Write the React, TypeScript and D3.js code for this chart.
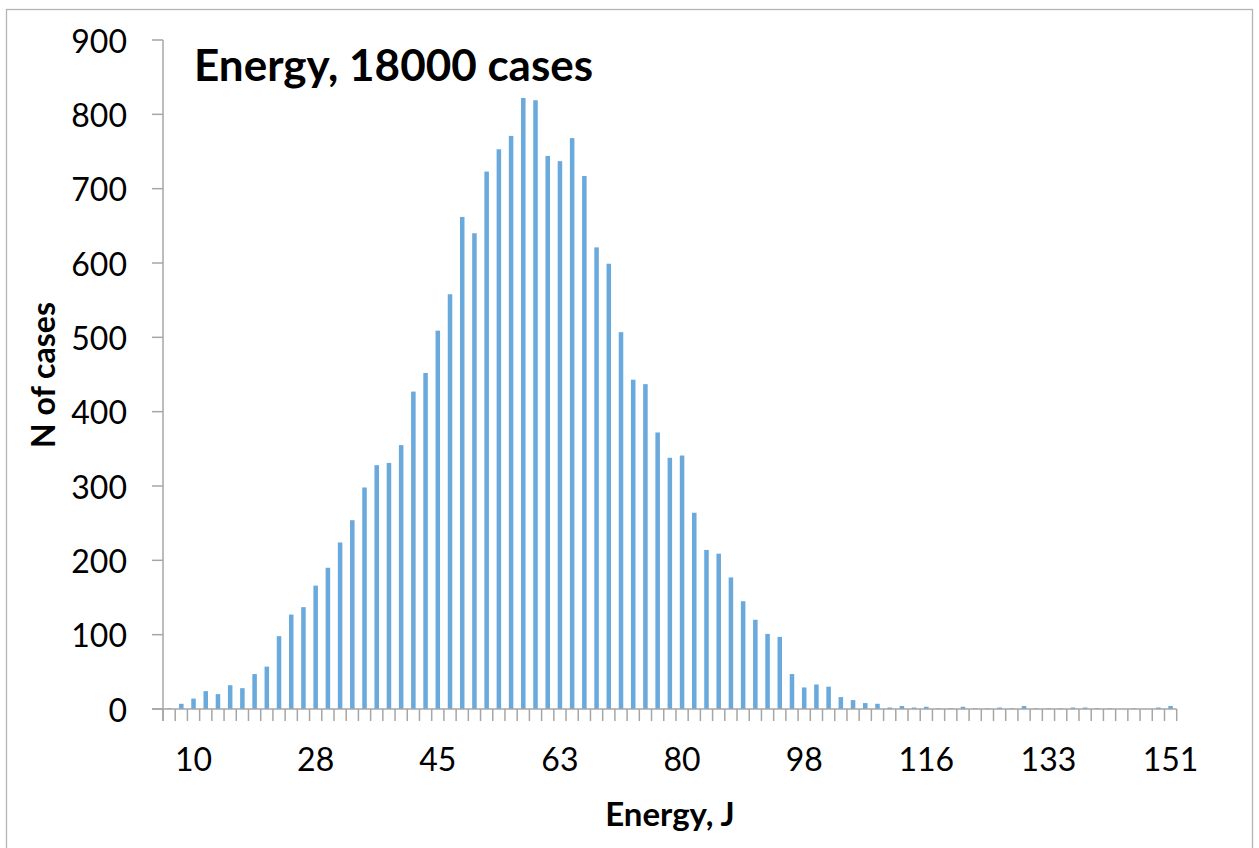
import React from "react";
import * as d3 from "d3";

// ---- data ----
const counts: number[] = [
  1, 7, 14, 24, 20, 32, 28, 47, 57, 98,
  127, 137, 166, 190, 224, 254, 298, 328, 331, 355,
  427, 452, 509, 558, 662, 640, 723, 753, 771, 822,
  819, 744, 737, 768, 717, 621, 599, 507, 443, 437,
  372, 338, 341, 264, 214, 209, 177, 145, 120, 101,
  97, 47, 29, 33, 30, 16, 12, 8, 7, 2,
  4, 2, 3, 1, 1, 3, 1, 1, 2, 1,
  4, 1, 1, 1, 2, 2, 1, 1, 0, 1,
  0, 2, 4,
];
const categories: number[] = counts.map((_, i) => i);
const xTickIndex: number[] = [2, 12, 22, 32, 42, 52, 62, 72, 82];
const xTickLabels: string[] = ["10", "28", "45", "63", "80", "98", "116", "133", "151"];
const yTicks: number[] = [0, 100, 200, 300, 400, 500, 600, 700, 800, 900];
const title = "Energy, 18000 cases";
const xTitle = "Energy, J";
const yTitle = "N of cases";

const W = 1259;
const H = 848;
const left = 163;
const right = 1176.7;
const top = 40;
const bottom = 709;
const FONT = "Lato, 'Open Sans', sans-serif";
const AXIS = "#A6A6A6";
const BAR = "#6AA9DC";

export default function App() {
  const x = d3
    .scaleBand<number>()
    .domain(categories)
    .range([left, right])
    .paddingInner(0.63)
    .paddingOuter(0.315);
  const y = d3.scaleLinear().domain([0, 900]).range([bottom, top]);
  const step = x.step();
  const start = x.range()[0];
  const boundaries = d3.range(categories.length + 1).map((k) => start + k * step);

  return (
    <svg
      width={W}
      height={H}
      style={{ position: "absolute", left: 0, top: 0, background: "#fff" }}
    >
      <rect x={6.5} y={9.5} width={1246} height={860} fill="#fff" stroke="#B4B4B4" strokeWidth={1.3} />

      {/* bars */}
      {counts.map((v, i) => (
        <rect
          key={i}
          x={x(i)!}
          y={y(v)}
          width={x.bandwidth()}
          height={bottom - y(v)}
          fill={BAR}
        />
      ))}

      {/* y axis */}
      <line x1={left} x2={left} y1={top} y2={bottom + 12} stroke={AXIS} strokeWidth={1.5} />
      {yTicks.map((t) => (
        <g key={t}>
          <line x1={left - 11} x2={left} y1={y(t)} y2={y(t)} stroke={AXIS} strokeWidth={1.5} />
          <text
            x={127}
            y={y(t)}
            textAnchor="end"
            dominantBaseline="central"
            fontFamily={FONT}
            fontSize={32}
            fill="#000"
          >
            {t}
          </text>
        </g>
      ))}

      {/* x axis */}
      <line x1={left - 11} x2={right} y1={bottom} y2={bottom} stroke={AXIS} strokeWidth={1.5} />
      {boundaries.map((bx, k) => (
        <line key={k} x1={bx} x2={bx} y1={bottom} y2={bottom + 12} stroke={AXIS} strokeWidth={1.5} />
      ))}
      {xTickIndex.map((ci, k) => (
        <text
          key={ci}
          x={x(ci)! + x.bandwidth() / 2}
          y={771}
          textAnchor="middle"
          fontFamily={FONT}
          fontSize={32}
          fill="#000"
        >
          {xTickLabels[k]}
        </text>
      ))}

      {/* titles */}
      <text x={194} y={81} fontFamily={FONT} fontWeight={700} fontSize={44} fill="#000">
        {title}
      </text>
      <text
        x={670}
        y={826}
        textAnchor="middle"
        fontFamily={FONT}
        fontWeight={700}
        fontSize={33}
        fill="#000"
      >
        {xTitle}
      </text>
      <text
        transform={`translate(55, 375) rotate(-90)`}
        textAnchor="middle"
        fontFamily={FONT}
        fontWeight={700}
        fontSize={32}
        fill="#000"
      >
        {yTitle}
      </text>
    </svg>
  );
}
